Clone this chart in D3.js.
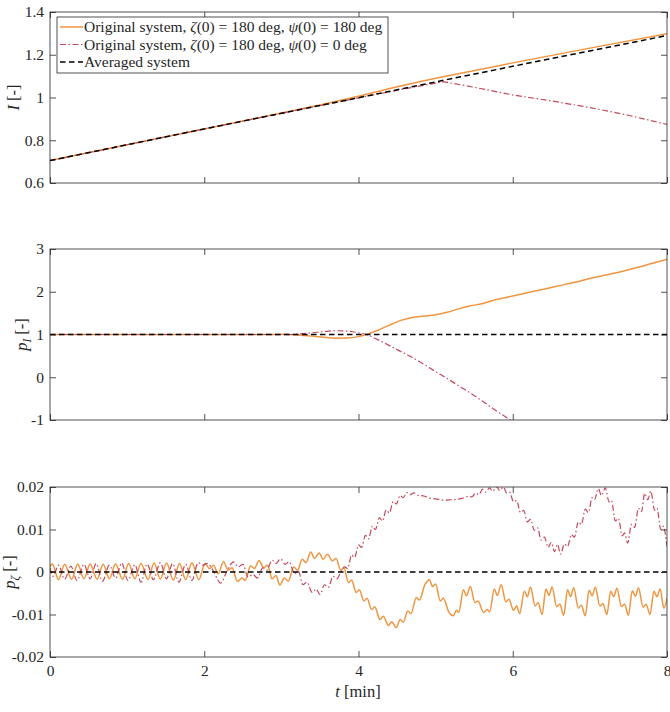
<!DOCTYPE html>
<html><head><meta charset="utf-8">
<script src="https://cdn.jsdelivr.net/npm/d3@7"></script>
<style>
body{margin:0;background:#fff}
svg{display:block}
text{font-family:"Liberation Serif","Times New Roman",serif !important;fill:#262626}
</style></head>
<body><svg id="c" width="670" height="712"></svg>
<script>
// ---------- data ----------
const timeTicks = [0, 2, 4, 6, 8];
const ITicks = [0.6, 0.8, 1, 1.2, 1.4];
const pITicks = [-1, 0, 1, 2, 3];
const pZTicks = [-0.02, -0.01, 0, 0.01, 0.02];

const legendLabels = [
  ["Original system, ", "ζ", "(0) = 180 deg, ", "ψ", "(0) = 180 deg"],
  ["Original system, ", "ζ", "(0) = 180 deg, ", "ψ", "(0) = 0 deg"],
  ["Averaged system"]
];

// I [-] vs t [min]
const IAveraged = [[0,0.705],[1,0.779],[2,0.853],[3,0.926],[4,0.999],[5,1.073],[6,1.146],[7,1.218],[8,1.290]];
const IOrange = [[0,0.705],[1,0.779],[2,0.853],[3,0.927],[3.5,0.965],[4,1.006],[4.5,1.050],[5,1.090],[6,1.162],[7,1.231],[8,1.298]];
const IRed = [[0,0.705],[1,0.779],[2,0.853],[3,0.926],[4,0.998],[4.5,1.034],[5.1,1.074],[5.5,1.048],[6,1.012],[6.5,0.984],[7,0.953],[7.5,0.917],[8,0.874]];

// p_I [-]
const pIAveraged = [[0,1],[8,1]];
const pIOrange = [[0,1],[1,1],[2,1],[2.8,1.0],[3.0,1.004],[3.2,0.99],[3.4,0.962],[3.55,0.935],[3.7,0.915],[3.85,0.916],[4.0,0.95],[4.1,1.0],[4.25,1.1],[4.4,1.22],[4.55,1.33],[4.7,1.4],[4.85,1.43],[5.0,1.46],[5.15,1.52],[5.3,1.6],[5.45,1.67],[5.6,1.72],[5.75,1.8],[5.9,1.86],[6.0,1.9],[6.2,1.98],[6.4,2.06],[6.6,2.14],[6.8,2.22],[7.0,2.31],[7.2,2.39],[7.4,2.47],[7.6,2.56],[7.8,2.66],[8.0,2.76]];
const pIRed = [[0,1],[1,1],[2,1],[2.8,1.0],[3.0,0.996],[3.2,1.01],[3.4,1.04],[3.55,1.068],[3.7,1.088],[3.85,1.08],[4.0,1.04],[4.1,1.0],[4.25,0.88],[4.4,0.74],[4.55,0.6],[4.7,0.46],[4.85,0.3],[5.0,0.13],[5.15,-0.03],[5.3,-0.2],[5.45,-0.37],[5.6,-0.55],[5.75,-0.74],[5.9,-0.92],[6.0,-1.04],[6.1,-1.15]];

// p_zeta [-]
const pZAveraged = [[0,0],[8,0]];
const pZOrange = [
[0,0.0012],[0.03,0.0019],[0.11,-0.0018],[0.19,0.0018],[0.28,-0.0017],[0.36,0.0019],[0.44,-0.0016],[0.52,0.0019],
[0.61,-0.0017],[0.69,0.0018],[0.77,-0.0016],[0.85,0.0019],[0.94,-0.0017],[1.02,0.0020],[1.10,-0.0016],[1.18,0.0020],
[1.27,-0.0018],[1.35,0.0021],[1.43,-0.0017],[1.51,0.0021],[1.60,-0.0019],[1.68,0.0020],[1.76,-0.0018],[1.84,0.0022],
[1.93,-0.0018],[2.01,0.0020],[2.07,0.0008],[2.12,0.0016],[2.18,-0.0004],[2.25,0.0024],[2.31,0.0004],[2.36,0.0010],
[2.43,-0.0022],[2.49,-0.0014],[2.53,-0.0020],[2.60,0.0014],[2.65,0.0008],[2.71,0.0027],[2.77,0.0010],[2.82,0.0016],
[2.88,-0.0016],[2.93,-0.0008],[2.98,-0.0031],[3.04,-0.0014],[3.09,-0.0022],[3.16,0.0012],[3.21,0.0004],[3.27,0.0030],
[3.32,0.0022],[3.38,0.0047],[3.43,0.0032],[3.49,0.0045],[3.54,0.0030],[3.60,0.0042],[3.66,0.0026],[3.71,0.0032],
[3.77,0.0004],[3.81,0.0010],[3.87,-0.0025],[3.91,-0.0019],[3.97,-0.0048],[4.01,-0.0042],[4.07,-0.0068],[4.11,-0.0062],
[4.17,-0.0088],[4.21,-0.0082],[4.28,-0.0112],[4.32,-0.0104],[4.39,-0.0126],[4.43,-0.0117],[4.49,-0.0131],[4.54,-0.0112],
[4.58,-0.0118],[4.64,-0.0092],[4.68,-0.0098],[4.75,-0.0060],[4.79,-0.0066],[4.86,-0.0030],[4.92,-0.0018],[4.96,-0.0034],
[5.00,-0.0028],[5.06,-0.0068],[5.10,-0.0062],[5.17,-0.0094],[5.23,-0.0103],[5.27,-0.0090],[5.30,-0.0095],[5.36,-0.0042],
[5.40,-0.0056],[5.45,-0.0034],[5.51,-0.0072],[5.55,-0.0068],[5.62,-0.0095],[5.67,-0.0088],[5.70,-0.0094],[5.76,-0.0040],
[5.80,-0.0055],[5.85,-0.0030],[5.91,-0.0070],[5.95,-0.0064],[6.01,-0.0090],[6.05,-0.0080],[6.09,-0.0098],[6.15,-0.0045],
[6.19,-0.0058],[6.23,-0.0035],[6.29,-0.0080],[6.33,-0.0072],[6.38,-0.0100],[6.43,-0.0040],[6.47,-0.0055],[6.51,-0.0035],
[6.57,-0.0082],[6.61,-0.0075],[6.66,-0.0102],[6.71,-0.0042],[6.75,-0.0058],[6.79,-0.0037],[6.85,-0.0085],[6.89,-0.0078],
[6.94,-0.0103],[6.99,-0.0043],[7.03,-0.0056],[7.07,-0.0036],[7.13,-0.0080],[7.17,-0.0074],[7.22,-0.0100],[7.27,-0.0045],
[7.31,-0.0058],[7.35,-0.0038],[7.41,-0.0082],[7.45,-0.0075],[7.50,-0.0102],[7.55,-0.0044],[7.59,-0.0057],[7.63,-0.0037],
[7.69,-0.0083],[7.73,-0.0076],[7.78,-0.0100],[7.83,-0.0045],[7.87,-0.0058],[7.91,-0.0040],[7.96,-0.0085],[8.00,-0.0062]];
const pZRed = [
[0,0.0010],[0.04,-0.0010],[0.11,0.0016],[0.19,-0.0017],[0.27,0.0014],[0.35,-0.0020],[0.44,0.0018],[0.52,-0.0016],
[0.60,0.0020],[0.68,-0.0022],[0.77,0.0016],[0.85,-0.0014],[0.93,0.0021],[1.01,-0.0020],[1.10,0.0017],[1.18,-0.0024],
[1.26,0.0019],[1.34,-0.0018],[1.43,0.0022],[1.51,-0.0016],[1.59,0.0020],[1.67,-0.0024],[1.76,0.0018],[1.84,-0.0020],
[1.92,0.0022],[1.98,0.0016],[2.04,0.0020],[2.12,0.0002],[2.21,-0.0026],[2.30,0.0004],[2.38,0.0024],[2.44,0.0012],
[2.50,0.0018],[2.57,-0.0012],[2.63,-0.0006],[2.69,-0.0014],[2.76,0.0010],[2.81,0.0004],[2.88,0.0028],[2.93,0.0020],
[2.99,0.0031],[3.05,0.0018],[3.10,0.0024],[3.17,-0.0004],[3.22,0.0002],[3.28,-0.0030],[3.33,-0.0024],[3.40,-0.0048],
[3.45,-0.0040],[3.50,-0.0053],[3.56,-0.0030],[3.61,-0.0036],[3.67,-0.0010],[3.72,-0.0016],[3.77,0.0000],[3.82,0.0012],
[3.86,0.0008],[3.91,0.0040],[3.95,0.0034],[4.00,0.0064],[4.04,0.0058],[4.09,0.0086],[4.13,0.0078],[4.18,0.0108],
[4.22,0.0100],[4.27,0.0128],[4.31,0.0120],[4.36,0.0146],[4.40,0.0139],[4.45,0.0166],[4.49,0.0160],[4.54,0.0180],
[4.58,0.0175],[4.63,0.0187],[4.67,0.0182],[4.72,0.0186],[4.78,0.0180],[4.84,0.0179],[4.92,0.0174],[5.00,0.0172],
[5.10,0.0169],[5.20,0.0170],[5.28,0.0171],[5.36,0.0174],[5.42,0.0178],[5.47,0.0177],[5.52,0.0186],[5.56,0.0182],
[5.61,0.0195],[5.65,0.0188],[5.70,0.0198],[5.74,0.0190],[5.79,0.0201],[5.83,0.0192],[5.88,0.0200],[5.92,0.0186],
[5.96,0.0188],[6.01,0.0165],[6.05,0.0168],[6.10,0.0140],[6.14,0.0145],[6.19,0.0118],[6.23,0.0124],[6.28,0.0098],
[6.32,0.0104],[6.37,0.0075],[6.41,0.0082],[6.46,0.0058],[6.50,0.0070],[6.54,0.0048],[6.58,0.0065],[6.62,0.0042],
[6.67,0.0066],[6.71,0.0060],[6.76,0.0088],[6.80,0.0082],[6.85,0.0118],[6.89,0.0112],[6.94,0.0148],[6.98,0.0140],
[7.03,0.0175],[7.06,0.0170],[7.11,0.0196],[7.15,0.0180],[7.20,0.0198],[7.25,0.0165],[7.28,0.0168],[7.33,0.0120],
[7.37,0.0126],[7.42,0.0085],[7.45,0.0092],[7.49,0.0068],[7.54,0.0112],[7.58,0.0105],[7.63,0.0150],[7.67,0.0142],
[7.71,0.0185],[7.75,0.0170],[7.79,0.0190],[7.84,0.0145],[7.87,0.0150],[7.92,0.0100],[7.95,0.0108],[8.00,0.0060]];

// ---------- drawing ----------
const svg = d3.select("#c");
const FONT = '"Liberation Serif","Times New Roman",serif';
const axisColor = "#262626";
const cOrange = "#f0953f", cRed = "#c4485c", cBlack = "#000";
const styles = {
  orange: {stroke: cOrange, width: 1.5, dash: null},
  red: {stroke: cRed, width: 1.2, dash: "6,2.5,1.5,2.5"},
  black: {stroke: cBlack, width: 1.5, dash: "5.5,3.5"}
};

const x = d3.scaleLinear().domain([0, 8]).range([50, 667]);

const panels = [
  {top: 12, bottom: 183, domain: [0.6, 1.4], ticks: ITicks, curve: d3.curveLinear,
   series: [[IOrange, "orange"], [IRed, "red"], [IAveraged, "black"]], label: "I"},
  {top: 249, bottom: 420, domain: [-1, 3], ticks: pITicks, curve: d3.curveMonotoneX,
   series: [[pIOrange, "orange"], [pIRed, "red"], [pIAveraged, "black"]], label: "pI"},
  {top: 487, bottom: 657, domain: [-0.02, 0.02], ticks: pZTicks, curve: d3.curveMonotoneX,
   series: [[pZOrange, "orange"], [pZRed, "red"], [pZAveraged, "black"]], label: "pZ"}
];

panels.forEach((p, i) => {
  const y = d3.scaleLinear().domain(p.domain).range([p.bottom, p.top]);
  const g = svg.append("g");
  const clipId = "clip" + i;
  svg.append("clipPath").attr("id", clipId).append("rect")
    .attr("x", 50).attr("y", p.top).attr("width", 617).attr("height", p.bottom - p.top);

  const line = d3.line().x(d => x(d[0])).y(d => y(d[1])).curve(p.curve);
  const lg = g.append("g").attr("clip-path", `url(#${clipId})`);
  p.series.forEach(([data, key]) => {
    const s = styles[key];
    lg.append("path").attr("d", line(data)).attr("fill", "none")
      .attr("stroke", s.stroke).attr("stroke-width", s.width)
      .attr("stroke-dasharray", s.dash).attr("stroke-linejoin", "round");
  });

  const fmt = d => String(d);
  const styleAxis = sel => {
    sel.attr("font-family", FONT).attr("font-size", 15.5);
    sel.select(".domain").remove();
    sel.selectAll("line").attr("stroke", axisColor).attr("stroke-width", 0.8);
    sel.selectAll("text").style("font-family", FONT).style("font-size", "15.5px").attr("fill", axisColor);
  };
  g.append("g").attr("transform", `translate(50,0)`)
    .call(d3.axisLeft(y).tickValues(p.ticks).tickFormat(fmt).tickSizeInner(-6).tickSizeOuter(0).tickPadding(6))
    .call(styleAxis);
  g.append("g").attr("transform", `translate(667,0)`)
    .call(d3.axisRight(y).tickValues(p.ticks).tickFormat("").tickSizeInner(-6).tickSizeOuter(0))
    .call(styleAxis);
  g.append("g").attr("transform", `translate(0,${p.top})`)
    .call(d3.axisTop(x).tickValues(timeTicks).tickFormat("").tickSizeInner(-6).tickSizeOuter(0))
    .call(styleAxis);
  const xb = g.append("g").attr("transform", `translate(0,${p.bottom})`)
    .call(d3.axisBottom(x).tickValues(timeTicks).tickFormat(i === 2 ? fmt : "").tickSizeInner(-6).tickSizeOuter(0).tickPadding(6))
    .call(styleAxis);
  xb.selectAll("text").attr("dy", "0.85em");

  g.append("rect").attr("x", 50).attr("y", p.top).attr("width", 617).attr("height", p.bottom - p.top)
    .attr("fill", "none").attr("stroke", axisColor).attr("stroke-width", 0.8);

  // y labels
  const cy = (p.top + p.bottom) / 2;
  const lx = [19, 27, 15][i];
  const t = svg.append("text").attr("transform", `translate(${lx},${cy}) rotate(-90)`)
    .attr("text-anchor", "middle").attr("font-size", 16.5).attr("fill", axisColor);
  if (p.label === "I") {
    t.append("tspan").attr("font-style", "italic").text("I");
    t.append("tspan").text(" [-]");
  } else {
    t.append("tspan").attr("font-style", "italic").text("p");
    t.append("tspan").attr("font-style", "italic").attr("font-size", 11.5).attr("dy", 3.5)
      .text(p.label === "pI" ? "I" : "ζ");
    t.append("tspan").attr("dy", -3.5).text(" [-]");
  }
});

// x label
const xl = svg.append("text").attr("x", 358).attr("y", 697).attr("text-anchor", "middle")
  .attr("font-size", 16.5).attr("fill", axisColor);
xl.append("tspan").attr("font-style", "italic").text("t");
xl.append("tspan").text(" [min]");

// legend
const lgd = svg.append("g");
lgd.append("rect").attr("x", 57).attr("y", 17).attr("width", 331).attr("height", 56)
  .attr("fill", "#fff").attr("stroke", axisColor).attr("stroke-width", 0.8);
const keys = ["orange", "red", "black"];
legendLabels.forEach((parts, k) => {
  const yy = 27 + k * 17.5;
  const s = styles[keys[k]];
  lgd.append("line").attr("x1", 60).attr("x2", 83).attr("y1", yy).attr("y2", yy)
    .attr("stroke", s.stroke).attr("stroke-width", s.width).attr("stroke-dasharray", s.dash);
  const tx = lgd.append("text").attr("x", 84).attr("y", yy).attr("dy", "0.35em")
    .attr("font-size", 15.5).attr("fill", axisColor).attr("xml:space", "preserve");
  parts.forEach((pt, j) => {
    tx.append("tspan").attr("font-style", j % 2 === 1 ? "italic" : null).text(pt);
  });
});
</script></body></html>
